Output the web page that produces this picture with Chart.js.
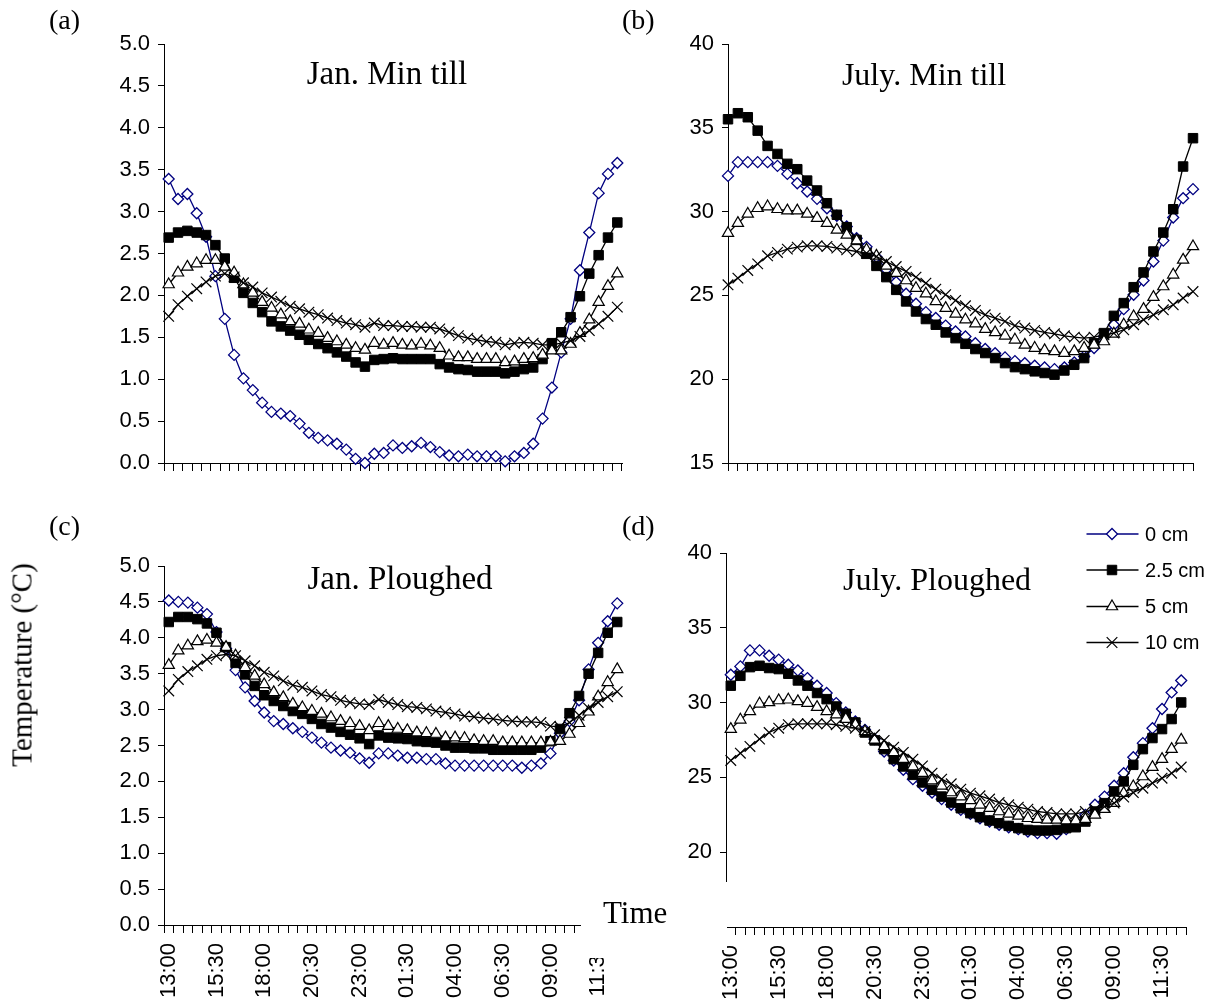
<!DOCTYPE html>
<html>
<head>
<meta charset="utf-8">
<script src="https://cdn.jsdelivr.net/npm/chart.js@4.4.1/dist/chart.umd.min.js"></script>
<style>
html,body{margin:0;padding:0;background:#fff;}
body{width:1212px;height:1005px;position:relative;overflow:hidden;}
canvas{position:absolute;display:block;}
.t{position:absolute;font-family:"Liberation Serif","Times New Roman",serif;color:#000;white-space:nowrap;line-height:1;}
.ttl{transform:translateX(-50%);}
.mask{position:absolute;background:#fff;}
</style>
</head>
<body>
<canvas id="chartA" width="640" height="490" style="left:0px;top:0px;width:640px;height:490px"></canvas>
<canvas id="chartB" width="572" height="490" style="left:640px;top:0px;width:572px;height:490px"></canvas>
<canvas id="chartC" width="640" height="515" style="left:0px;top:490px;width:640px;height:515px"></canvas>
<canvas id="chartD" width="572" height="515" style="left:640px;top:490px;width:572px;height:515px"></canvas>

<div class="t" style="left:49px;top:6px;font-size:28px">(a)</div>
<div class="t" style="left:622px;top:6px;font-size:28px">(b)</div>
<div class="t" style="left:49px;top:512px;font-size:28px">(c)</div>
<div class="t" style="left:622px;top:512px;font-size:28px">(d)</div>

<div class="t ttl" style="left:387px;top:57px;font-size:33px">Jan. Min till</div>
<div class="t ttl" style="left:924px;top:57.5px;font-size:32px">July. Min till</div>
<div class="t ttl" style="left:400px;top:562px;font-size:33px">Jan. Ploughed</div>
<div class="t ttl" style="left:937px;top:562.5px;font-size:32px">July. Ploughed</div>

<div class="t" style="left:22px;top:665px;font-size:29px;transform:translate(-50%,-50%) rotate(-90deg);">Temperature (°C)</div>

<div class="mask" style="left:581px;top:890px;width:99px;height:68px"></div>
<div class="t" style="left:603px;top:897px;font-size:31px">Time</div>
<div class="mask" style="left:676px;top:882px;width:51px;height:68px"></div>

<script>
// ---------- data ----------
const timeLabels49 = ['13:00','13:30','14:00','14:30','15:00','15:30','16:00','16:30','17:00','17:30',
  '18:00','18:30','19:00','19:30','20:00','20:30','21:00','21:30','22:00','22:30',
  '23:00','23:30','00:00','00:30','01:00','01:30','02:00','02:30','03:00','03:30',
  '04:00','04:30','05:00','05:30','06:00','06:30','07:00','07:30','08:00','08:30',
  '09:00','09:30','10:00','10:30','11:00','11:30','12:00','12:30','13:00'];
const timeLabels48 = timeLabels49.slice(0, 48);

const seriesNames = ['0 cm', '2.5 cm', '5 cm', '10 cm'];

// (a) January, minimum tillage
const janMin0  = [3.39,3.15,3.21,2.98,2.70,2.23,1.72,1.29,1.01,0.87,0.72,0.61,0.59,0.56,0.47,0.36,0.30,0.27,0.23,0.16,0.05,0.00,0.11,0.12,0.21,0.18,0.20,0.24,0.19,0.13,0.09,0.08,0.10,0.08,0.08,0.08,0.02,0.08,0.12,0.23,0.53,0.90,1.32,1.72,2.30,2.75,3.22,3.45,3.58];
const janMin25 = [2.69,2.75,2.77,2.75,2.72,2.60,2.44,2.21,2.03,1.91,1.80,1.69,1.63,1.58,1.53,1.47,1.42,1.37,1.32,1.27,1.20,1.15,1.23,1.24,1.25,1.24,1.24,1.24,1.24,1.18,1.14,1.12,1.11,1.09,1.09,1.09,1.07,1.09,1.12,1.14,1.24,1.43,1.56,1.74,1.99,2.26,2.48,2.69,2.87];
const janMin5  = [2.13,2.27,2.34,2.38,2.42,2.42,2.34,2.27,2.13,2.03,1.92,1.85,1.77,1.69,1.66,1.59,1.55,1.49,1.45,1.41,1.37,1.35,1.43,1.41,1.43,1.41,1.40,1.42,1.40,1.37,1.28,1.26,1.26,1.24,1.24,1.24,1.20,1.21,1.24,1.25,1.29,1.34,1.34,1.42,1.55,1.71,1.92,2.11,2.26];
const janMin10 = [1.75,1.89,1.99,2.08,2.16,2.23,2.26,2.22,2.15,2.10,2.03,1.98,1.93,1.87,1.84,1.80,1.77,1.73,1.70,1.67,1.65,1.62,1.67,1.64,1.64,1.63,1.63,1.62,1.62,1.60,1.56,1.52,1.49,1.47,1.45,1.44,1.41,1.43,1.44,1.43,1.41,1.41,1.43,1.46,1.51,1.58,1.66,1.75,1.86];

// (b) July, minimum tillage
const julMin0  = [32.13,32.95,32.95,32.95,32.95,32.73,32.25,31.69,31.20,30.76,30.20,29.75,29.11,28.41,27.90,27.30,26.55,25.80,25.10,24.50,24.00,23.65,23.20,22.85,22.55,22.15,21.80,21.55,21.30,21.08,20.95,20.80,20.70,20.60,20.70,21.00,21.36,21.86,22.55,23.25,24.18,25.04,25.89,27.02,28.27,29.65,30.80,31.34];
const julMin25 = [35.51,35.87,35.63,34.83,33.92,33.44,32.85,32.53,31.85,31.26,30.50,29.81,29.07,28.31,27.48,26.76,26.09,25.33,24.64,24.04,23.59,23.25,22.79,22.45,22.11,21.80,21.56,21.26,20.96,20.72,20.60,20.47,20.37,20.27,20.52,20.86,21.26,22.15,22.75,23.78,24.54,25.49,26.37,27.62,28.75,30.14,32.69,34.38];
const julMin5  = [28.71,29.31,29.86,30.20,30.30,30.14,30.06,30.06,29.86,29.61,29.31,28.91,28.61,28.27,27.72,27.36,26.76,26.33,25.89,25.43,25.10,24.64,24.24,23.90,23.55,23.31,22.99,22.79,22.59,22.35,22.05,21.86,21.72,21.66,21.56,21.66,21.86,22.05,22.25,22.71,23.25,23.74,24.18,24.90,25.53,26.23,27.12,27.92];
const julMin10 = [25.63,26.03,26.49,26.88,27.36,27.56,27.76,27.88,27.96,27.96,27.92,27.82,27.72,27.62,27.52,27.32,27.02,26.72,26.43,26.09,25.73,25.37,25.04,24.70,24.38,24.10,23.84,23.64,23.45,23.19,23.05,22.91,22.79,22.71,22.59,22.51,22.45,22.51,22.65,22.75,22.95,23.25,23.55,23.84,24.14,24.44,24.84,25.23];

// (c) January, ploughed
const janPl0  = [4.52,4.50,4.49,4.42,4.33,4.08,3.85,3.55,3.31,3.12,2.96,2.84,2.80,2.74,2.69,2.61,2.54,2.47,2.43,2.40,2.32,2.26,2.39,2.39,2.36,2.33,2.33,2.31,2.31,2.25,2.22,2.22,2.22,2.22,2.22,2.22,2.22,2.19,2.22,2.25,2.39,2.67,2.84,3.13,3.56,3.93,4.23,4.48];
const janPl25 = [4.22,4.29,4.29,4.26,4.20,4.07,3.87,3.65,3.49,3.33,3.20,3.12,3.05,2.98,2.94,2.87,2.80,2.75,2.69,2.65,2.60,2.52,2.64,2.61,2.60,2.59,2.56,2.55,2.54,2.50,2.47,2.47,2.46,2.46,2.44,2.44,2.44,2.44,2.44,2.47,2.56,2.73,2.95,3.19,3.50,3.79,4.07,4.22];
const janPl5  = [3.62,3.82,3.89,3.95,3.97,3.93,3.87,3.75,3.59,3.47,3.35,3.24,3.17,3.08,3.03,2.98,2.94,2.89,2.84,2.81,2.77,2.71,2.81,2.77,2.73,2.71,2.68,2.67,2.66,2.61,2.61,2.60,2.57,2.56,2.56,2.54,2.54,2.54,2.54,2.54,2.55,2.56,2.66,2.81,2.97,3.18,3.38,3.56];
const janPl10 = [3.26,3.42,3.53,3.61,3.70,3.75,3.77,3.75,3.68,3.61,3.52,3.47,3.40,3.34,3.31,3.26,3.21,3.18,3.13,3.10,3.08,3.07,3.14,3.10,3.07,3.04,3.03,3.01,2.98,2.96,2.94,2.91,2.90,2.88,2.87,2.85,2.84,2.83,2.83,2.82,2.77,2.76,2.82,2.92,3.02,3.10,3.18,3.25];

// (d) July, ploughed
const julPl0  = [31.86,32.42,33.49,33.49,33.13,32.87,32.53,32.15,31.64,31.13,30.64,29.97,29.34,28.74,28.18,27.56,26.73,26.13,25.51,24.88,24.44,23.99,23.55,23.17,22.83,22.56,22.27,22.05,21.83,21.67,21.54,21.38,21.27,21.27,21.23,21.54,21.94,22.50,23.17,23.72,24.44,25.28,26.35,27.29,28.29,29.57,30.68,31.48];
const julPl25 = [31.13,31.79,32.37,32.46,32.31,32.24,31.93,31.48,31.13,30.64,30.23,29.74,29.25,28.67,28.00,27.47,26.89,26.22,25.73,25.17,24.66,24.17,23.72,23.32,22.94,22.61,22.34,22.12,21.94,21.76,21.61,21.49,21.45,21.45,21.49,21.61,21.67,22.05,22.72,23.28,24.06,24.73,25.84,26.89,27.63,28.23,28.90,30.01];
const julPl5  = [28.23,28.85,29.41,29.92,30.01,30.14,30.19,30.08,29.97,29.70,29.41,29.19,28.90,28.52,28.07,27.51,27.07,26.67,26.22,25.73,25.28,24.79,24.44,23.99,23.72,23.46,23.17,22.94,22.72,22.56,22.43,22.27,22.21,22.16,22.16,22.12,22.12,22.21,22.50,22.88,23.28,23.95,24.39,25.06,25.69,26.22,26.89,27.51];
const julPl10 = [26.13,26.62,27.07,27.56,28.00,28.29,28.52,28.58,28.58,28.58,28.58,28.52,28.41,28.29,28.07,27.85,27.47,27.02,26.67,26.22,25.77,25.28,24.88,24.57,24.21,23.95,23.77,23.55,23.32,23.17,23.01,22.88,22.72,22.65,22.56,22.56,22.56,22.72,22.88,23.05,23.28,23.68,23.99,24.28,24.62,24.95,25.28,25.69];

// ---------- styles ----------
Chart.defaults.font.family = '"Liberation Sans", Arial, Helvetica, sans-serif';
Chart.defaults.font.size = 22;
Chart.defaults.color = '#000';

const seriesStyles = [
  {borderColor:'#000080', borderWidth:1.3, pointStyle:'rectRot', pointRadius:5.5, pointBackgroundColor:'#ffffff', pointBorderColor:'#000080', pointBorderWidth:1.3, order:3},
  {borderColor:'#000000', borderWidth:1.3, pointStyle:'rect', pointRadius:6.7, pointBackgroundColor:'#000000', pointBorderColor:'#000000', pointBorderWidth:1, order:2},
  {borderColor:'#000000', borderWidth:1.3, pointStyle:'triangle', pointRadius:6.5, pointBackgroundColor:'#ffffff', pointBorderColor:'#000000', pointBorderWidth:1.2, order:1},
  {borderColor:'#000000', borderWidth:1.3, pointStyle:'crossRot', pointRadius:7.5, pointBackgroundColor:'#000000', pointBorderColor:'#000000', pointBorderWidth:1.2, order:0}
];

function buildDatasets(seriesList) {
  return seriesList.map((d, i) => Object.assign({
    label: seriesNames[i], data: d, fill: false, tension: 0, clip: false,
    pointHoverRadius: seriesStyles[i].pointRadius
  }, seriesStyles[i]));
}

function drawMarker(ctx, style, x, y, r, fill, stroke, bw) {
  ctx.save();
  ctx.fillStyle = fill; ctx.strokeStyle = stroke; ctx.lineWidth = bw;
  ctx.beginPath();
  if (style === 'rectRot') {
    ctx.moveTo(x - r, y); ctx.lineTo(x, y - r); ctx.lineTo(x + r, y); ctx.lineTo(x, y + r); ctx.closePath();
    ctx.fill(); ctx.stroke();
  } else if (style === 'rect') {
    const s = Math.SQRT1_2 * r;
    ctx.rect(x - s, y - s, 2 * s, 2 * s); ctx.fill(); ctx.stroke();
  } else if (style === 'triangle') {
    const a = 2 * Math.PI / 3;
    ctx.moveTo(x, y - r);
    ctx.lineTo(x + Math.sin(a) * r, y - Math.cos(a) * r);
    ctx.lineTo(x + Math.sin(2 * a) * r, y - Math.cos(2 * a) * r);
    ctx.closePath(); ctx.fill(); ctx.stroke();
  } else if (style === 'crossRot') {
    const o = Math.SQRT1_2 * r;
    ctx.moveTo(x - o, y - o); ctx.lineTo(x + o, y + o);
    ctx.moveTo(x + o, y - o); ctx.lineTo(x - o, y + o);
    ctx.stroke();
  }
  ctx.restore();
}

const legendPlugin = {
  id: 'depthLegend',
  afterDraw(chart) {
    const ctx = chart.ctx;
    const rows = [44, 80, 116.5, 152.5];
    const x0 = 446.5, x1 = 498.5, xm = 472, xt = 505;
    chart.data.datasets.forEach((ds, i) => {
      const y = rows[i];
      ctx.save();
      ctx.strokeStyle = ds.borderColor; ctx.lineWidth = ds.borderWidth;
      ctx.beginPath(); ctx.moveTo(x0, y); ctx.lineTo(x1, y); ctx.stroke();
      ctx.restore();
      drawMarker(ctx, ds.pointStyle, xm, y, ds.pointRadius, ds.pointBackgroundColor, ds.pointBorderColor, ds.pointBorderWidth);
      ctx.save();
      ctx.fillStyle = '#000';
      ctx.font = '20px "Liberation Sans", Arial, sans-serif';
      ctx.textBaseline = 'middle'; ctx.textAlign = 'left';
      ctx.fillText(ds.label, xt, y + 1);
      ctx.restore();
    });
  }
};

function makeOptions(c) {
  return {
    responsive: false, animation: false, devicePixelRatio: 1,
    layout: { padding: c.pad },
    events: [],
    plugins: { legend: { display: false }, tooltip: { enabled: false }, title: { display: false } },
    scales: {
      x: {
        type: 'category', offset: c.offset,
        grid: { display: true, drawOnChartArea: false, drawTicks: true, tickLength: 8, color: '#000', lineWidth: 1, offset: c.offset },
        border: { display: true, color: '#000', width: 1 },
        ticks: {
          display: c.showX, autoSkip: false, maxRotation: 90, minRotation: 90, padding: 10,
          font: { size: 22 }, color: '#000',
          callback: function (v, i) { return i % 5 === 0 ? this.getLabelForValue(v) : ''; }
        },
        afterFit: function (s) { s.height = c.xH; s.paddingLeft = 0; s.paddingRight = 0; }
      },
      y: {
        type: 'linear', min: c.yMin, max: c.yMax,
        grid: { display: true, drawOnChartArea: false, drawTicks: true, tickLength: 6, color: '#000', lineWidth: 1 },
        border: { display: true, color: '#000', width: 1 },
        ticks: { stepSize: c.yStep, padding: 8, font: { size: 22 }, color: '#000',
          callback: function (v) { return v.toFixed(c.yDec); } },
        afterFit: function (s) { s.width = c.yW; s.paddingTop = 0; s.paddingBottom = 0; }
      }
    }
  };
}

new Chart(document.getElementById('chartA'), {
  type: 'line',
  data: { labels: timeLabels49, datasets: buildDatasets([janMin0, janMin25, janMin5, janMin10]) },
  options: makeOptions({ pad: {left:0, top:44, right:18, bottom:0}, yW:164, xH:27, offset:true, showX:false, yMin:0, yMax:5, yStep:0.5, yDec:1 })
});

new Chart(document.getElementById('chartB'), {
  type: 'line',
  data: { labels: timeLabels48, datasets: buildDatasets([julMin0, julMin25, julMin5, julMin10]) },
  options: makeOptions({ pad: {left:0, top:44, right:19, bottom:0}, yW:88, xH:27, offset:false, showX:false, yMin:15, yMax:40, yStep:5, yDec:0 })
});

new Chart(document.getElementById('chartC'), {
  type: 'line',
  data: { labels: timeLabels48, datasets: buildDatasets([janPl0, janPl25, janPl5, janPl10]) },
  options: makeOptions({ pad: {left:0, top:76, right:18, bottom:0}, yW:164, xH:80, offset:true, showX:true, yMin:0, yMax:5, yStep:0.5, yDec:1 })
});

new Chart(document.getElementById('chartD'), {
  type: 'line',
  data: { labels: timeLabels48, datasets: buildDatasets([julPl0, julPl25, julPl5, julPl10]) },
  options: makeOptions({ pad: {left:0, top:63, right:26, bottom:0}, yW:86, xH:78, offset:true, showX:true, yMin:15, yMax:40, yStep:5, yDec:0 }),
  plugins: [legendPlugin]
});
</script>
</body>
</html>
